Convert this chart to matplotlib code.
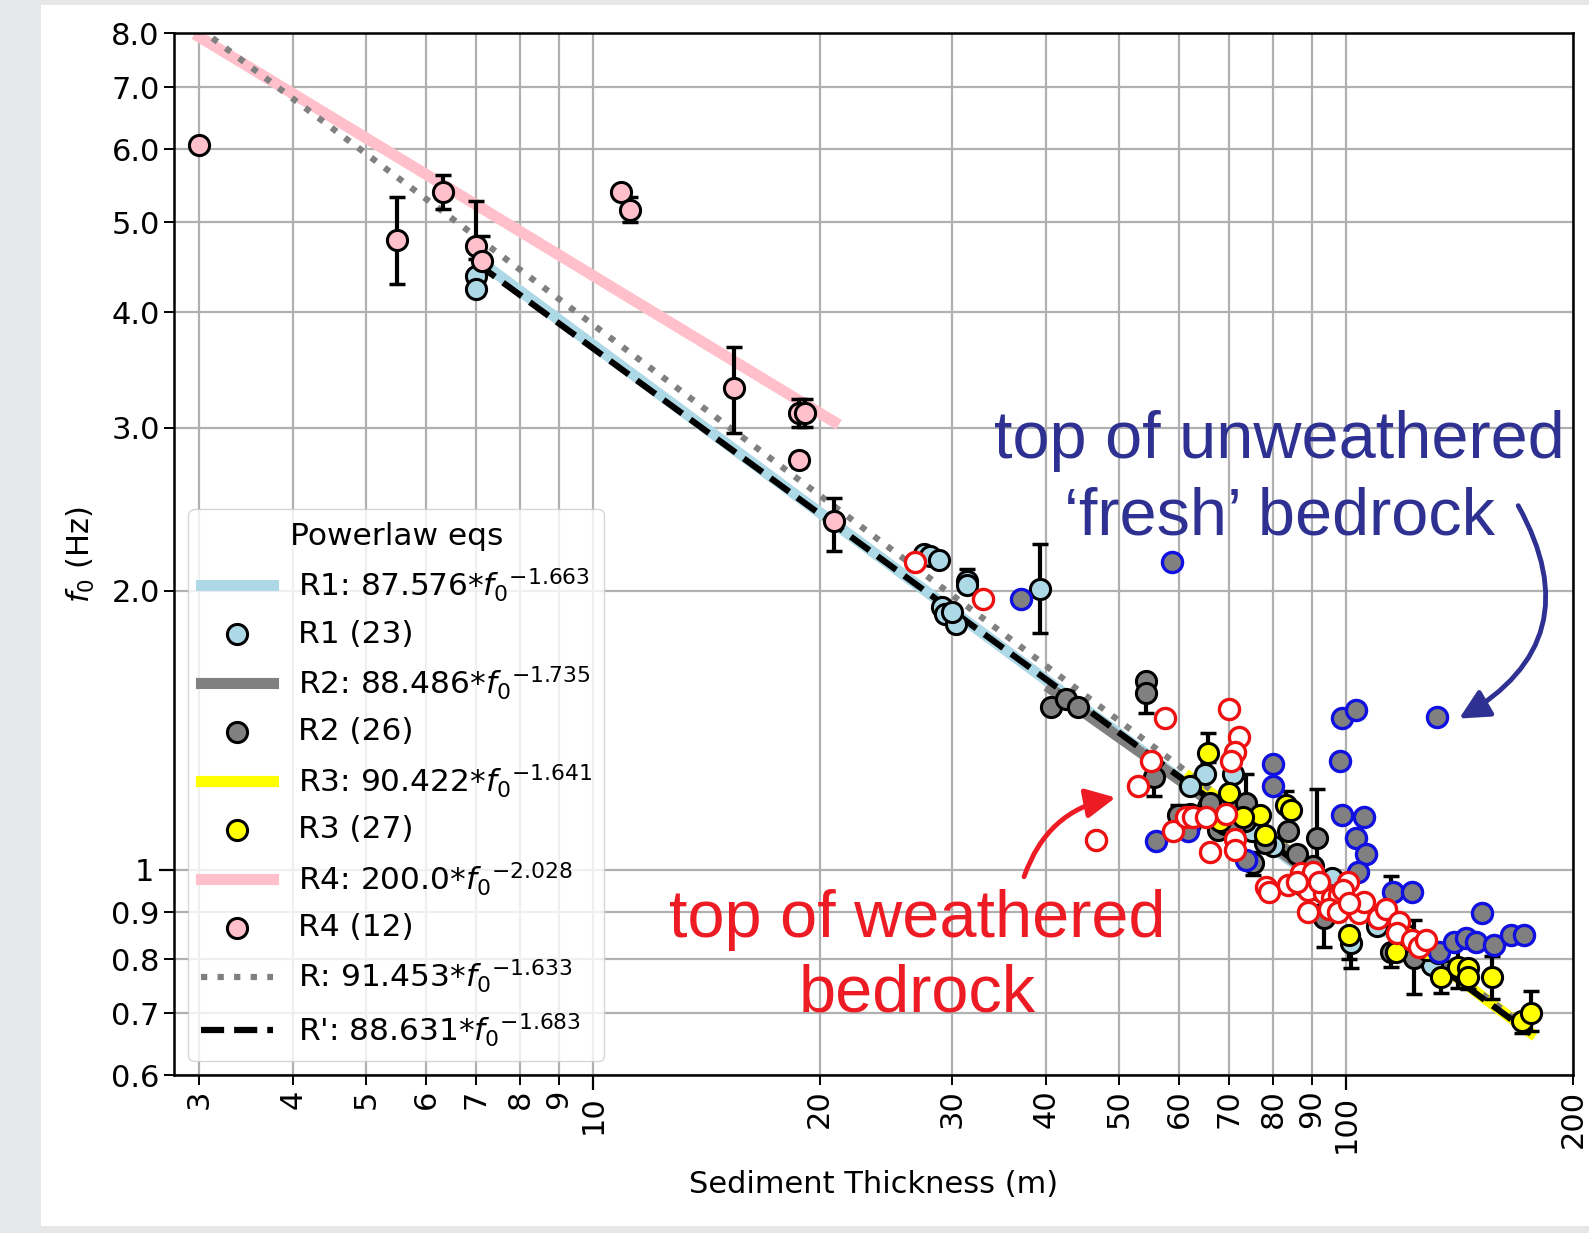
import numpy as np
import matplotlib
matplotlib.use("Agg")
import matplotlib.pyplot as plt
from matplotlib.patches import Rectangle, FancyArrowPatch
from matplotlib.ticker import FixedLocator, FixedFormatter

# ---- data: sediment thickness (m) vs f0 (Hz) ----
r1_h = [7.0, 7.0, 27.5, 28.0, 28.8, 31.4, 31.4, 29.1, 29.3, 30.3, 39.2, 64.9,
        70.7, 101.5, 95.9, 68.0, 75.0, 62.0, 80.0, 88.0, 110.0, 130.0, 30.0]
r1_f = [4.38, 4.24, 2.19, 2.18, 2.16, 2.05, 2.03, 1.92, 1.89, 1.84, 2.01, 1.27,
        1.27, 0.833, 0.98, 1.16, 1.10, 1.23, 1.06, 1.00, 0.87, 0.79, 1.90]
r1_lo = [0.05, 0.05, 0, 0, 0, 0, 0.03, 0.03, 0.03, 0.03, 0.21, 0,
         0, 0.05, 0, 0, 0, 0, 0, 0, 0, 0, 0]
r1_hi = [0.05, 0.05, 0, 0, 0, 0.06, 0, 0.03, 0.03, 0.03, 0.24, 0,
         0, 0.02, 0, 0, 0, 0, 0, 0, 0, 0, 0]

r2_h = [40.6, 42.5, 44.1, 54.3, 54.3, 55.6, 59.8, 65.5, 65.9, 67.5, 73.6, 73.3, 75.2,
        83.6, 91.5, 123.1, 132.3, 114.7, 93.5, 62.0, 69.0, 71.0, 78.0, 95.0, 86.0, 90.4]
r2_f = [1.50, 1.53, 1.50, 1.60, 1.55, 1.26, 1.146, 1.17, 1.18, 1.104, 1.18, 1.13, 1.016,
        1.10, 1.081, 0.802, 0.812, 0.815, 0.886, 1.12, 1.12, 1.10, 1.07, 0.93, 1.04, 1.01]
r2_lo = [0, 0, 0, 0, 0.075, 0.06, 0.03, 0, 0, 0, 0.06, 0, 0.03,
         0, 0.13, 0.067, 0, 0.03, 0.06, 0, 0, 0, 0, 0, 0, 0]
r2_hi = [0, 0.03, 0, 0, 0, 0.06, 0.03, 0, 0, 0, 0.09, 0, 0.03,
         0, 0.14, 0.08, 0, 0.17, 0.03, 0, 0, 0, 0, 0, 0, 0]

r3_h = [65.5, 70.0, 76.9, 83.2, 84.5, 101.0, 116.5, 133.6, 140.6, 145.0, 145.0, 156.4,
        171.4, 175.9, 73.0, 78.0, 88.0, 92.0, 95.0, 105.0, 110.0, 120.0, 125.0, 128.0,
        68.0, 62.0, 98.0]
r3_f = [1.336, 1.21, 1.146, 1.175, 1.16, 0.85, 0.815, 0.766, 0.786, 0.783, 0.766, 0.766,
        0.686, 0.70, 1.14, 1.09, 0.96, 0.95, 0.94, 0.91, 0.89, 0.85, 0.83, 0.82,
        1.13, 1.15, 0.93]
r3_lo = [0.03, 0, 0, 0, 0, 0.05, 0, 0.03, 0.04, 0.04, 0, 0.04,
         0.02, 0.03, 0, 0, 0, 0, 0, 0, 0, 0, 0, 0, 0, 0, 0]
r3_hi = [0.07, 0, 0, 0.04, 0, 0, 0, 0.03, 0.04, 0, 0, 0.04,
         0, 0.04, 0, 0, 0, 0, 0, 0, 0, 0, 0, 0, 0, 0, 0]

r4_h = [3.0, 5.5, 6.32, 7.0, 7.12, 10.9, 11.2, 15.4, 18.8, 19.1, 18.8, 20.9]
r4_f = [6.06, 4.79, 5.39, 4.72, 4.54, 5.39, 5.16, 3.31, 3.11, 3.11, 2.77, 2.38]
r4_lo = [0, 0.50, 0.22, 0.15, 0.10, 0, 0.15, 0.35, 0.10, 0.10, 0.05, 0.17]
r4_hi = [0, 0.53, 0.23, 0.55, 0.30, 0, 0.17, 0.36, 0.11, 0.11, 0.05, 0.14]

# unweathered 'fresh' bedrock picks (grey, blue edge)
fresh_h = [37.0, 58.7, 56.0, 61.6, 73.6, 79.9, 79.9, 98.9, 103.0, 132.2, 98.1, 98.8, 105.7,
           103.0, 106.2, 103.6, 115.3, 122.5, 151.7, 133.0, 139.2, 144.2, 148.7, 157.2,
           165.4, 172.3]
fresh_f = [1.96, 2.15, 1.075, 1.10, 1.024, 1.30, 1.23, 1.457, 1.488, 1.463, 1.31, 1.146, 1.14,
           1.081, 1.04, 0.995, 0.947, 0.947, 0.897, 0.815, 0.836, 0.843, 0.836, 0.829,
           0.850, 0.850]

# weathered bedrock picks (open red)
weath_h = [26.8, 33.0, 52.9, 55.1, 57.5, 46.5, 70.0, 72.0, 71.1, 70.4, 58.9, 61.3, 62.6,
           65.2, 69.3, 71.1, 71.1, 66.0, 78.3, 79.1, 83.6, 87.1, 90.3, 88.9, 93.5, 95.9,
           97.9, 100.5, 88.9, 95.0, 97.5, 104.1, 105.7, 110.1, 112.9, 117.6, 117.0, 122.5,
           125.0, 127.6, 92.0, 99.0, 86.0, 101.0]
weath_f = [2.15, 1.96, 1.23, 1.31, 1.46, 1.077, 1.49, 1.39, 1.34, 1.31, 1.10, 1.14, 1.14,
           1.14, 1.15, 1.08, 1.05, 1.046, 0.959, 0.947, 0.963, 0.991, 0.995, 0.951, 0.943, 0.931,
           0.939, 0.971, 0.901, 0.908, 0.901, 0.897, 0.924, 0.886, 0.908, 0.879, 0.854, 0.840,
           0.826, 0.840, 0.97, 0.95, 0.97, 0.92]

# power law fits h = a * f0^b
fits = {
    "R1": (87.576, -1.663),
    "R2": (88.486, -1.735),
    "R3": (90.422, -1.641),
    "R4": (200.0, -2.028),
    "R": (91.453, -1.633),
    "R'": (88.631, -1.683),
}

groups = [
    ("R1", r1_h, r1_f, r1_lo, r1_hi, "lightblue"),
    ("R2", r2_h, r2_f, r2_lo, r2_hi, "gray"),
    ("R3", r3_h, r3_f, r3_lo, r3_hi, "yellow"),
    ("R4", r4_h, r4_f, r4_lo, r4_hi, "pink"),
]


def fit_curve(name, hmin, hmax):
    a, b = fits[name]
    h = np.geomspace(hmin, hmax, 200)
    return h, (h / a) ** (1.0 / b)


def fit_label(name):
    a, b = fits[name]
    return f"{name}: {a}*$f_0{{}}^{{{b}}}$"


plt.rcParams["font.size"] = 22
fig = plt.figure(figsize=(15.89, 12.33), dpi=100, facecolor="#e6e7e9")
bg = Rectangle((0.0258, 0.0057), 0.98, 0.9902, transform=fig.transFigure,
               facecolor="white", edgecolor="none", zorder=-10)
fig.add_artist(bg)
ax = fig.add_axes([0.1097, 0.1280, 0.8801, 0.8449])
ax.set_facecolor("white")

handles = []
for name, h, f, lo, hi, color in groups:
    hh, ff = fit_curve(name, min(h), max(h))
    ln, = ax.plot(hh, ff, color=color, lw=8, zorder=2, label=fit_label(name))
    lo = np.asarray(lo)
    hi = np.asarray(hi)
    m = (lo > 0) | (hi > 0)
    ax.errorbar(np.asarray(h)[m], np.asarray(f)[m], yerr=[lo[m], hi[m]], fmt="none",
                ecolor="k", elinewidth=3, capsize=6, capthick=2.5, zorder=3)
    sc = ax.scatter(h, f, s=210, facecolor=color, edgecolor="k", linewidths=2.2,
                    zorder=4, label=f"{name} ({len(h)})")
    handles += [ln, sc]

all_h = r1_h + r2_h + r3_h + r4_h
hh, ff = fit_curve("R", min(all_h), max(all_h))
ln_r, = ax.plot(hh, ff, color="gray", ls=":", lw=4.5, zorder=2.5, label=fit_label("R"))
sub_h = r1_h + r2_h + r3_h
hh, ff = fit_curve("R'", min(sub_h), max(sub_h))
ln_rp, = ax.plot(hh, ff, color="k", ls="--", lw=4.5, zorder=2.6, label=fit_label("R'"))
handles += [ln_r, ln_rp]

ax.scatter(fresh_h, fresh_f, s=210, facecolor="gray", edgecolor="#1010e0",
           linewidths=2.4, zorder=5)
ax.scatter(weath_h, weath_f, s=210, facecolor="white", edgecolor="#ee1111",
           linewidths=2.4, zorder=6)

ax.set_xscale("log")
ax.set_yscale("log")
ax.set_xlim(2.78, 200)
ax.set_ylim(0.6, 8.0)

xmaj = [10, 100]
xmin = [3, 4, 5, 6, 7, 8, 9, 20, 30, 40, 50, 60, 70, 80, 90, 200]
ax.xaxis.set_major_locator(FixedLocator(xmaj))
ax.xaxis.set_major_formatter(FixedFormatter([str(v) for v in xmaj]))
ax.xaxis.set_minor_locator(FixedLocator(xmin))
ax.xaxis.set_minor_formatter(FixedFormatter([str(v) for v in xmin]))
ymaj = [1]
ymin = [0.6, 0.7, 0.8, 0.9, 2, 3, 4, 5, 6, 7, 8]
ax.yaxis.set_major_locator(FixedLocator(ymaj))
ax.yaxis.set_major_formatter(FixedFormatter(["1"]))
ax.yaxis.set_minor_locator(FixedLocator(ymin))
ax.yaxis.set_minor_formatter(FixedFormatter([f"{v:.1f}" for v in ymin]))
ax.tick_params(axis="x", which="both", labelrotation=90, labelsize=22)
ax.tick_params(axis="y", which="both", labelsize=22)
ax.tick_params(which="major", length=11, width=1.6)
ax.tick_params(which="minor", length=7, width=1.4)
ax.grid(True, which="both", color="#b0b0b0", lw=1.6)
ax.set_axisbelow(True)
for sp in ax.spines.values():
    sp.set_linewidth(1.8)

ax.set_xlabel("Sediment Thickness (m)", fontsize=22, labelpad=12)
ax.set_ylabel("$f_0$ (Hz)", fontsize=22, labelpad=10)

leg = ax.legend(handles=handles, loc="lower left", title="Powerlaw eqs", fontsize=22.5,
                title_fontsize=22.5, handlelength=2.3, labelspacing=0.5,
                borderaxespad=0.45)

navy = "#2e3192"
red = "#ed1c24"
ax.text(0.79, 0.572, "top of unweathered\n\u2018fresh\u2019 bedrock", transform=ax.transAxes,
        ha="center", va="center", fontsize=48, color=navy, family="Liberation Sans",
        linespacing=1.3, zorder=7)
ax.text(0.531, 0.113, "top of weathered\nbedrock", transform=ax.transAxes,
        ha="center", va="center", fontsize=48, color=red, family="Liberation Sans",
        linespacing=1.25, zorder=7)

ax.add_patch(FancyArrowPatch((0.960, 0.549), (0.917, 0.341), transform=ax.transAxes,
                             connectionstyle="arc3,rad=-0.5", arrowstyle="-|>",
                             mutation_scale=45, lw=3.5, color=navy, zorder=7))
ax.add_patch(FancyArrowPatch((0.607, 0.188), (0.675, 0.267), transform=ax.transAxes,
                             connectionstyle="arc3,rad=-0.3", arrowstyle="-|>",
                             mutation_scale=45, lw=3.5, color=red, zorder=7))

fig.savefig("out.png", dpi=100, facecolor=fig.get_facecolor())
plt.close(fig)
